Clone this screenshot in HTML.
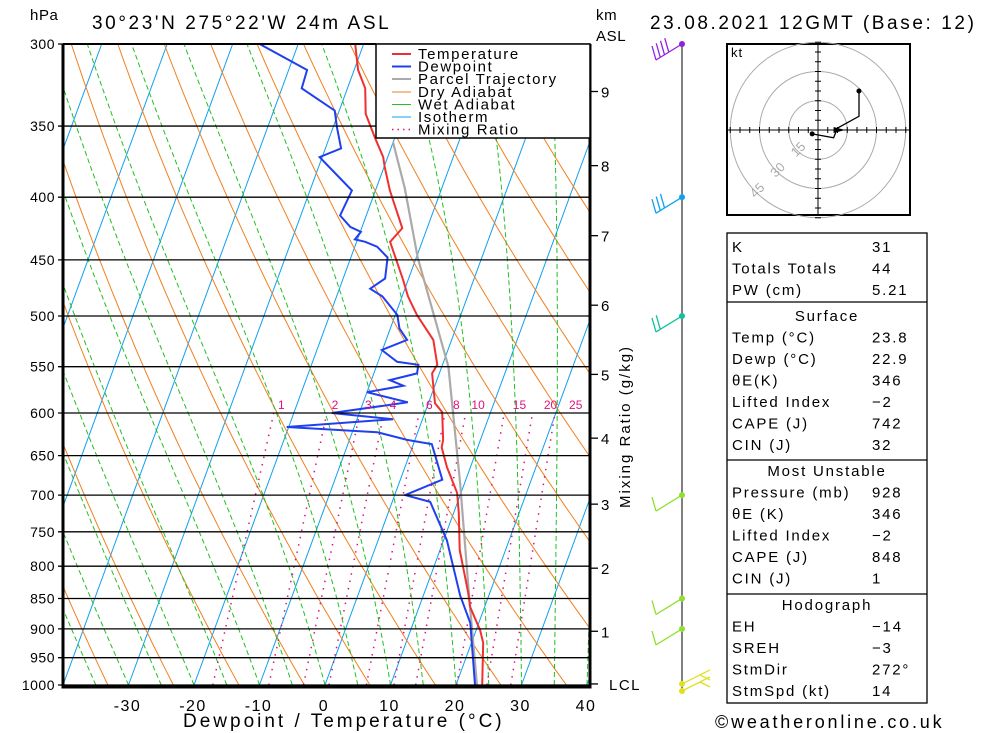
<!DOCTYPE html>
<html><head><meta charset="utf-8">
<style>
html,body{margin:0;padding:0;background:#fff;}
svg{display:block;font-family:"Liberation Sans","DejaVu Sans",sans-serif;}
.t{font-size:15px;fill:#000;letter-spacing:0.6px}
</style></head>
<body>
<svg id="chart" width="1000" height="733" viewBox="0 0 1000 733" xmlns="http://www.w3.org/2000/svg">
<defs><clipPath id="pc"><rect x="63" y="44" width="527" height="643"/></clipPath></defs>
<text x="30" y="20" class="t" font-size="15">hPa</text>
<text x="92" y="29" font-size="19" letter-spacing="2.6">30°23'N  275°22'W  24m  ASL</text>
<text x="596" y="20" class="t">km</text>
<text x="596" y="41" class="t">ASL</text>
<text x="650" y="29" font-size="19" letter-spacing="2.6">23.08.2021 12GMT (Base: 12)</text>
<g id="grid" clip-path="url(#pc)"></g>
<g id="series" clip-path="url(#pc)"></g>
<g id="axes"></g>
<g>
<rect x="376" y="44" width="214" height="94" fill="#fff" stroke="#000" stroke-width="1.5"/>
<line x1="392" y1="54" x2="411" y2="54" stroke="#f03030" stroke-width="2"/><text x="418" y="59" font-size="15" letter-spacing="1.6">Temperature</text>
<line x1="392" y1="66.5" x2="411" y2="66.5" stroke="#2040f0" stroke-width="2"/><text x="418" y="71.5" font-size="15" letter-spacing="1.6">Dewpoint</text>
<line x1="392" y1="79" x2="411" y2="79" stroke="#aaa" stroke-width="2"/><text x="418" y="84" font-size="15" letter-spacing="1.6">Parcel Trajectory</text>
<line x1="392" y1="92" x2="411" y2="92" stroke="#f08020" stroke-width="1"/><text x="418" y="97" font-size="15" letter-spacing="1.6">Dry Adiabat</text>
<line x1="392" y1="104.5" x2="411" y2="104.5" stroke="#20c020" stroke-width="1"/><text x="418" y="109.5" font-size="15" letter-spacing="1.6">Wet Adiabat</text>
<line x1="392" y1="117" x2="411" y2="117" stroke="#10a0f0" stroke-width="1"/><text x="418" y="122" font-size="15" letter-spacing="1.6">Isotherm</text>
<line x1="392" y1="129.5" x2="411" y2="129.5" stroke="#e0107f" stroke-width="1.5" stroke-dasharray="1.5 4"/><text x="418" y="134.5" font-size="15" letter-spacing="1.6">Mixing Ratio</text>
</g>
<text transform="translate(630,508) rotate(-90)" font-size="15" letter-spacing="2">Mixing Ratio (g/kg)</text>
<text x="183" y="727" font-size="19" letter-spacing="3">Dewpoint / Temperature (°C)</text>
<text x="715" y="728" font-size="18" letter-spacing="2.8">©weatheronline.co.uk</text>
<g id="wind"></g>
<g id="hodo"></g>
<g id="tables"></g>
</svg>
<script>
const NS="http://www.w3.org/2000/svg";
// ---- data ----
const isobars=[300,350,400,450,500,550,600,650,700,750,800,850,900,950,1000];
const tempTicks=[-30,-20,-10,0,10,20,30,40];
const kmTicks=["9","8","7","6","5","4","3","2","1","LCL"];
const kmPress=[328,377,430,490,558,629,712,803,904,998];
const mixRatios=[1,2,3,4,6,8,10,15,20,25];
const tempP=[300,315,326,342,358,371,378,395,424,435,467,482,499,523,548,557,589,599,631,640,664,697,724,776,841,864,902,924,1000];
const tempT=[-31.3,-29.4,-27.3,-25.8,-23.0,-20.7,-19.9,-17.8,-13.8,-14.9,-10.8,-9.1,-6.7,-2.8,-0.8,-1.1,1.0,2.6,4.3,4.5,6.4,9.4,10.8,13.0,16.7,17.8,20.6,21.8,24.0];
const dewP=[300,315,326,340,351,365,371,395,414,423,427,433,435,439,448,466,475,482,499,512,523,533,545,548,557,564,570,577,588,600,607,616,622,631,636,680,700,709,762,845,890,1000];
const dewT=[-45.9,-37.2,-37.0,-30.7,-29.4,-27.6,-30.4,-23.6,-24.0,-21.8,-19.9,-20.4,-18.7,-16.6,-14.4,-13.6,-15.3,-13.0,-9.7,-8.6,-6.8,-10.1,-7.1,-3.7,-3.4,-7.2,-4.8,-10.0,-3.2,-14.2,-4.5,-20.3,-6.2,-1.2,2.8,6.4,1.6,5.8,10.5,15.6,18.7,22.9];
const parcelP=[361,393,448,550,684,848,1000];
const parcelT=[-20.0,-15.7,-9.8,1.0,9.3,17.1,23.2];
const hodoU=[-3,8,10,21,21];
const hodoV=[-2,-4,1,7,20];
const windP=[300,400,500,700,850,900,998,1000];
const windSpd=[40,25,15,10,10,10,15,15];
const windColor=["#9020e0","#10a0f0","#10c0a0","#90e030","#90e030","#90e030","#e0e020","#e0e020"];
const idxLabels=["K","Totals Totals","PW (cm)"];
const idxValues=["31","44","5.21"];
const surfLabels=["Temp (°C)","Dewp (°C)","θE(K)","Lifted Index","CAPE (J)","CIN (J)"];
const surfValues=["23.8","22.9","346","−2","742","32"];
const muLabels=["Pressure (mb)","θE (K)","Lifted Index","CAPE (J)","CIN (J)"];
const muValues=["928","346","−2","848","1"];
const hgLabels=["EH","SREH","StmDir","StmSpd (kt)"];
const hgValues=["−14","−3","272°","14"];
// ---- scales ----
const LN=Math.log(1000/300);
function Y(p){return 685-641*Math.log(1000/p)/LN;}
function X(T,p){return 325+6.55*T+(685-Y(p))*0.367;}
function el(tag,attrs,parent){const e=document.createElementNS(NS,tag);for(const k in attrs)e.setAttribute(k,attrs[k]);parent.appendChild(e);return e;}
const grid=document.getElementById('grid'),series=document.getElementById('series'),axes=document.getElementById('axes');
function poly(pts,stroke,w,dash,parent){const a={points:pts.map(q=>q[0].toFixed(1)+","+q[1].toFixed(1)).join(" "),fill:"none",stroke:stroke,"stroke-width":w};if(dash)a["stroke-dasharray"]=dash;return el('polyline',a,parent);}
// isotherms
for(let T=-140;T<=40;T+=10){const l=poly([[X(T,1000),Y(1000)],[X(T,300),Y(300)]],"#10a0f0",1,null,grid);

}
// dry adiabats
for(let th=240;th<=520;th+=10){const pts=[];for(let p=1000;p>=300;p-=10)pts.push([X(th*Math.pow(p/1000,0.2857)-273.15,p),Y(p)]);const l=poly(pts,"#f08020",1,null,grid);

}
// wet adiabats
function es(Tc){return 6.112*Math.exp(17.67*Tc/(Tc+243.5));}
for(let T0=-40;T0<=45;T0+=5){let T=T0+273.15;const pts=[[X(T0,1000),Y(1000)]];for(let p=1000;p>300;p-=2){const e=es(T-273.15);const rs=0.622*e/(p-e);const dTdp=(287*T+2.5e6*rs)/(p*(1005+2.5e6*2.5e6*rs*0.622/(287*T*T)));T-=dTdp*2;if((p-2)%10===0)pts.push([X(T-273.15,p-2),Y(p-2)]);}
const l=poly(pts,"#20c020",1,"5 3",grid);

}
// mixing ratio
function tdw(w,p){const e=w*p/(622+w);const a=Math.log(e/6.112);return 243.5*a/(17.67-a);}
mixRatios.forEach(w=>{const l=poly([[X(tdw(w,1000),1000),Y(1000)],[X(tdw(w,600),600),Y(600)]],"#e0107f",1.5,"1.5 6",grid);


const t=el('text',{x:X(tdw(w,600),600)+7+w*0.55,y:Y(600)-4,"font-size":12,fill:"#e0107f","text-anchor":"middle"},axes);t.textContent=w;

});
// isobars
isobars.forEach(p=>{const l=el('line',{x1:58,x2:590,y1:Y(p),y2:Y(p),stroke:"#000","stroke-width":1.3},axes);


const t=el('text',{x:55,y:Y(p)+5,"font-size":14,"text-anchor":"end","letter-spacing":"0.5"},axes);t.textContent=p;

});
// frame
el('polyline',{points:"63,44 63,687 590,687 590,44",fill:"none",stroke:"#000","stroke-width":3},axes);
el('line',{x1:63,x2:376,y1:44,y2:44,stroke:"#000","stroke-width":2},axes);
tempTicks.forEach(T=>{const t=el('text',{x:X(T,1000)-1,y:711,"font-size":16,"text-anchor":"middle","letter-spacing":"1.5"},axes);t.textContent=T;

});
kmTicks.forEach((k,i)=>{const y=Y(kmPress[i]);el('line',{x1:590,x2:598,y1:y,y2:y,stroke:"#000","stroke-width":1.3},axes);
const t=el('text',{x:k==="LCL"?609:601,y:y+6,"font-size":15,"letter-spacing":"1.5"},axes);t.textContent=k;

});
// series
function curve(P,T,color,w,name){const l=poly(P.map((p,i)=>[X(T[i],p),Y(p)]),color,w,null,series);

}
curve(parcelP,parcelT,"#aaa",2.2,"parcel-trajectory");
curve(dewP,dewT,"#2040f0",2,"dewpoint-line");
curve(tempP,tempT,"#f03030",2,"temperature-line");
// wind
const wind=document.getElementById('wind');
el('line',{x1:682,x2:682,y1:44,y2:690,stroke:"#000","stroke-width":1},wind);
windP.forEach((p,i)=>{const y=Math.min(Y(p),690)+(i===7?6:0);const c=windColor[i];
const dx=-26,dy=16;const ang=Math.atan2(dy,dx);
const g=el('g',{},wind);


el('circle',{cx:682,cy:y,r:3,fill:c},g);
if(i>=6){el('line',{x1:682,y1:y,x2:710,y2:y-14,stroke:c,"stroke-width":1.3},g);el('line',{x1:700,y1:y-9,x2:710,y2:y-4,stroke:c,"stroke-width":1.3},g);return;}
const ex=682+dx,ey=y+dy;el('line',{x1:682,y1:y,x2:ex,y2:ey,stroke:c,"stroke-width":1.3},g);
let n=Math.round(windSpd[i]/10);for(let k=0;k<Math.max(1,n);k++){const bx=ex+k*5*Math.cos(ang+Math.PI),by=ey+k*5*Math.sin(ang+Math.PI);
el('line',{x1:bx,y1:by,x2:bx-4,y2:by-14,stroke:c,"stroke-width":1.3},g);}});
// hodograph
const hodo=document.getElementById('hodo');const cx=818,cy=130,k=1.95;
el('rect',{x:727,y:44,width:183,height:171,fill:"#fff",stroke:"#000","stroke-width":2},hodo);
[15,30,45].forEach(r=>{el('circle',{cx:cx,cy:cy,r:r*k,fill:"none",stroke:"#aaa","stroke-width":1},hodo);
const t=el('text',{x:cx-r*k*0.7-6,y:cy+r*k*0.7+4,"font-size":13,fill:"#aaa",transform:`rotate(-45 ${cx-r*k*0.7} ${cy+r*k*0.7})`},hodo);t.textContent=r;

});
el('line',{x1:727,x2:910,y1:cy,y2:cy,stroke:"#000"},hodo);el('line',{x1:cx,x2:cx,y1:44,y2:215,stroke:"#000"},hodo);
for(let v=-45;v<=45;v+=5){if(!v)continue;el('line',{x1:cx+v*k,x2:cx+v*k,y1:cy-3,y2:cy+3,stroke:"#000"},hodo);el('line',{x1:cx-3,x2:cx+3,y1:cy-v*k,y2:cy-v*k,stroke:"#000"},hodo);}
const kt=el('text',{x:731,y:57,"font-size":13,"letter-spacing":"1"},hodo);kt.textContent="kt";
const hp=poly(hodoU.map((u,i)=>[cx+u*k,cy-hodoV[i]*k]),"#000",1.3,null,hodo);


el('circle',{cx:cx+hodoU[0]*k,cy:cy-hodoV[0]*k,r:2.5,fill:"#000"},hodo);
el('circle',{cx:cx+hodoU[4]*k,cy:cy-hodoV[4]*k,r:2.5,fill:"#000"},hodo);
el('polygon',{points:`${cx+14*k},${cy} ${cx+8*k},${cy-3} ${cx+8*k},${cy+3}`,fill:"#000"},hodo);
// tables
const tb=document.getElementById('tables');
el('rect',{x:727,y:233,width:200,height:470,fill:"none",stroke:"#000","stroke-width":1.3},tb);
[302,460,594].forEach(y=>el('line',{x1:727,x2:927,y1:y,y2:y,stroke:"#000","stroke-width":1.3},tb));
function rows(L,V,y0,header){let y=y0;if(header){const t=el('text',{x:827,y:y,"font-size":15,"text-anchor":"middle","letter-spacing":"1.8"},tb);t.textContent=header;

y+=21.5;}
L.forEach((l,i)=>{const a=el('text',{x:732,y:y,"font-size":15,"letter-spacing":"1.8"},tb);a.textContent=l;


const b=el('text',{x:872,y:y,"font-size":15,"letter-spacing":"1.8"},tb);b.textContent=V[i];

y+=21.5;});}
rows(idxLabels,idxValues,252);
rows(surfLabels,surfValues,321,"Surface");
rows(muLabels,muValues,476,"Most Unstable");
rows(hgLabels,hgValues,610,"Hodograph");
</script>
</body></html>
